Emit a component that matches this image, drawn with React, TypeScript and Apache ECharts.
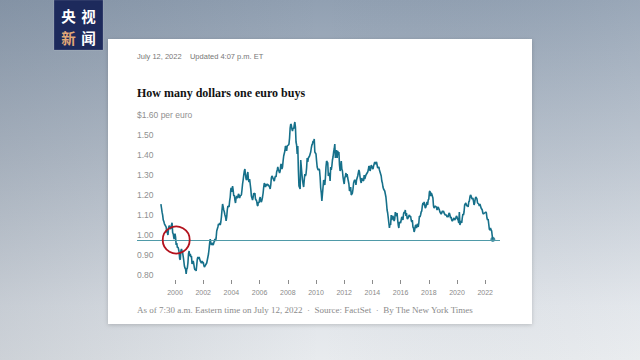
import React, { useEffect, useRef } from "react";
import * as echarts from "echarts";

// EUR/USD, two readings per month (start and middle of month)
const y1999 = [1.179,1.160,1.139,1.124,1.100,1.093,1.081,1.075,1.070,1.064,1.040,1.037,1.025,1.058,1.072,1.066,1.055,1.060,1.075,1.086,1.037,1.030,1.010,1.005];
const y2000 = [1.032,1.014,0.975,0.985,0.962,0.965,0.955,0.939,0.905,0.902,0.945,0.955,0.945,0.935,0.917,0.895,0.870,0.860,0.855,0.830,0.855,0.860,0.885,0.930];
const y2001 = [0.945,0.920,0.930,0.915,0.920,0.880,0.890,0.895,0.880,0.860,0.850,0.855,0.845,0.875,0.905,0.915,0.905,0.915,0.905,0.895,0.890,0.885,0.895,0.885];
const y2002 = [0.890,0.875,0.865,0.870,0.875,0.880,0.885,0.900,0.915,0.930,0.955,0.985,1.005,0.985,0.975,0.985,0.980,0.975,0.985,0.985,1.005,0.995,1.010,1.045];
const y2003 = [1.045,1.065,1.080,1.075,1.085,1.075,1.090,1.115,1.150,1.180,1.165,1.150,1.140,1.125,1.115,1.095,1.115,1.150,1.170,1.170,1.165,1.195,1.215,1.255];
const y2004 = [1.260,1.240,1.270,1.250,1.220,1.225,1.200,1.185,1.210,1.220,1.210,1.215,1.230,1.225,1.210,1.220,1.220,1.225,1.250,1.280,1.300,1.325,1.345,1.355];
const y2005 = [1.325,1.305,1.300,1.325,1.340,1.300,1.290,1.305,1.280,1.255,1.220,1.210,1.200,1.215,1.235,1.225,1.235,1.205,1.205,1.195,1.175,1.170,1.190,1.185];
const y2006 = [1.205,1.215,1.195,1.190,1.200,1.215,1.235,1.265,1.285,1.275,1.265,1.280,1.270,1.280,1.280,1.275,1.270,1.265,1.255,1.275,1.310,1.320,1.315,1.315];
const y2007 = [1.300,1.295,1.310,1.320,1.315,1.340,1.350,1.365,1.350,1.345,1.335,1.345,1.375,1.380,1.355,1.365,1.395,1.420,1.420,1.445,1.470,1.465,1.445,1.470];
const y2008 = [1.470,1.475,1.480,1.510,1.560,1.580,1.575,1.555,1.545,1.560,1.555,1.575,1.590,1.565,1.490,1.475,1.430,1.470,1.350,1.270,1.270,1.255,1.400,1.400];
const y2009 = [1.330,1.300,1.280,1.265,1.300,1.330,1.320,1.330,1.360,1.410,1.390,1.410,1.410,1.420,1.430,1.440,1.460,1.475,1.480,1.495,1.490,1.505,1.440,1.435];
const y2010 = [1.430,1.395,1.365,1.355,1.350,1.355,1.350,1.315,1.260,1.235,1.195,1.230,1.265,1.300,1.290,1.275,1.310,1.365,1.395,1.395,1.385,1.320,1.330,1.335];
const y2011 = [1.295,1.365,1.350,1.370,1.400,1.415,1.440,1.455,1.480,1.410,1.435,1.450,1.410,1.445,1.430,1.440,1.375,1.345,1.360,1.395,1.355,1.345,1.315,1.295];
const y2012 = [1.280,1.310,1.320,1.335,1.315,1.330,1.310,1.310,1.280,1.245,1.250,1.265,1.225,1.230,1.235,1.255,1.285,1.295,1.300,1.295,1.275,1.300,1.310,1.320];
const y2013 = [1.335,1.350,1.340,1.315,1.295,1.285,1.310,1.300,1.300,1.295,1.325,1.305,1.305,1.325,1.330,1.335,1.340,1.350,1.370,1.365,1.345,1.355,1.375,1.375];
const y2014 = [1.360,1.355,1.370,1.380,1.390,1.380,1.385,1.390,1.375,1.360,1.360,1.365,1.350,1.340,1.340,1.320,1.295,1.285,1.265,1.255,1.250,1.245,1.230,1.215];
const y2015 = [1.185,1.150,1.135,1.135,1.085,1.060,1.080,1.075,1.125,1.100,1.115,1.120,1.105,1.095,1.105,1.140,1.120,1.125,1.135,1.100,1.075,1.060,1.090,1.090];
const y2016 = [1.085,1.085,1.115,1.110,1.100,1.130,1.140,1.135,1.150,1.120,1.135,1.110,1.105,1.105,1.120,1.125,1.115,1.120,1.100,1.090,1.100,1.065,1.060,1.040];
const y2017 = [1.050,1.070,1.075,1.060,1.075,1.080,1.065,1.085,1.120,1.115,1.125,1.140,1.145,1.170,1.185,1.175,1.190,1.175,1.160,1.165,1.165,1.190,1.175,1.200];
const y2018 = [1.205,1.240,1.245,1.220,1.235,1.230,1.230,1.210,1.170,1.160,1.165,1.170,1.170,1.165,1.150,1.160,1.165,1.165,1.150,1.140,1.140,1.130,1.135,1.145];
const y2019 = [1.140,1.145,1.135,1.135,1.125,1.125,1.125,1.115,1.120,1.115,1.130,1.135,1.125,1.110,1.115,1.100,1.095,1.100,1.100,1.110,1.100,1.100,1.110,1.120];
const y2020 = [1.115,1.105,1.100,1.085,1.140,1.075,1.090,1.095,1.085,1.110,1.130,1.125,1.140,1.175,1.180,1.185,1.175,1.170,1.175,1.165,1.190,1.195,1.215,1.225];
const y2021 = [1.220,1.210,1.205,1.210,1.195,1.175,1.185,1.205,1.215,1.215,1.205,1.185,1.185,1.180,1.170,1.180,1.180,1.160,1.160,1.150,1.135,1.130,1.130,1.135];
const y2022 = [1.135,1.140,1.135,1.110,1.100,1.105,1.080,1.055,1.050,1.060,1.050,1.045,1.020,1.003];

const years: [number, number[]][] = [
  [1999, y1999], [2000, y2000], [2001, y2001], [2002, y2002], [2003, y2003],
  [2004, y2004], [2005, y2005], [2006, y2006], [2007, y2007], [2008, y2008],
  [2009, y2009], [2010, y2010], [2011, y2011], [2012, y2012], [2013, y2013],
  [2014, y2014], [2015, y2015], [2016, y2016], [2017, y2017], [2018, y2018],
  [2019, y2019], [2020, y2020], [2021, y2021], [2022, y2022],
];

const tickYears = [2000, 2002, 2004, 2006, 2008, 2010, 2012, 2014, 2016, 2018, 2020, 2022];
const parity = 1.0;
const circledPoint = [2000.05, 1.0];

const dateLine = "July 12, 2022    Updated 4:07 p.m. ET";
const title = "How many dollars one euro buys";
const footnote = "As of 7:30 a.m. Eastern time on July 12, 2022  \u00b7  Source: FactSet  \u00b7  By The New York Times";

const TEAL = "#16708a";

export default function App() {
  const ref = useRef<HTMLDivElement>(null);
  useEffect(() => {
    if (!ref.current) return;
    const chart = echarts.init(ref.current, null, { renderer: "svg" });
    const points = years.flatMap(([yr, vals]) => vals.map((v, i) => [yr + i / 24, v]));
    const last = points[points.length - 1];

    const txt = (id: string, text: string, x: number, y: number, font: string, fill: string, extra: any = {}) => ({
      type: "text",
      id,
      z: 5,
      style: {
        text, x, y, font, fill,
        textAlign: "left", textVerticalAlign: "middle",
        align: "left", verticalAlign: "middle",
        ...extra,
      },
    });
    const logoTxt = (id: string, text: string, x: number, y: number, fill: string) => ({
      type: "text", id, z: 6,
      style: {
        text, x, y, fill, font: 'bold 14.5px "Noto Sans CJK SC"', lineHeight: 15,
        textAlign: "center", textVerticalAlign: "middle", align: "center", verticalAlign: "middle",
      },
    });

    const graphics: any[] = [
      {
        type: "rect", id: "bgshade", z: -10, silent: true,
        shape: { x: 0, y: 0, width: 640, height: 360 },
        style: {
          fill: {
            type: "linear", x: 0, y: 0, x2: 1, y2: 0,
            colorStops: [
              { offset: 0, color: "rgba(60,75,95,0.16)" },
              { offset: 0.5, color: "rgba(60,75,95,0.0)" },
              { offset: 1, color: "rgba(255,255,255,0.08)" },
            ],
          },
        },
      },
      {
        type: "rect", id: "card", z: -5,
        shape: { x: 108, y: 39, width: 424, height: 285 },
        style: { fill: "#ffffff", shadowBlur: 4, shadowColor: "rgba(0,0,0,0.18)", shadowOffsetY: 1 },
      },
      {
        type: "rect", id: "logo", z: 5,
        shape: { x: 54, y: 0, width: 49, height: 50 },
        style: { fill: "#1d2a5c", stroke: "rgba(255,255,255,0.15)", lineWidth: 1 },
      },
      logoTxt("l1", "央", 68.5, 15.5, "#ffffff"),
      logoTxt("l1b", "视", 88.5, 15.5, "#ffffff"),
      logoTxt("l2", "新", 68.5, 37, "#e2a877"),
      logoTxt("l3", "闻", 88.5, 37, "#ffffff"),
      txt("date", dateLine, 137, 56.5, '7.5px "Liberation Sans"', "#777777"),
      txt("title", title, 137, 93, 'bold 12px "Liberation Serif"', "#121212"),
      txt("foot", footnote, 137, 310, '9px "Liberation Serif"', "#8a8a8a"),
    ];

    chart.setOption({
      animation: false,
      backgroundColor: {
        type: "linear", x: 0, y: 0, x2: 0, y2: 1,
        colorStops: [
          { offset: 0, color: "#91a0b2" },
          { offset: 0.45, color: "#bac3ce" },
          { offset: 0.85, color: "#e1e5ea" },
          { offset: 1, color: "#e8ebee" },
        ],
      },
      grid: { left: 137, right: 140, top: 120, bottom: 80 },
      xAxis: {
        type: "value",
        min: 2000 - 38 / 14.1,
        max: 2000 + 325 / 14.1,
        axisLine: { show: false },
        splitLine: { show: false },
        axisTick: { show: true, customValues: tickYears, length: 4, lineStyle: { color: "#8c8c8c", width: 1 } },
        axisLabel: {
          customValues: tickYears, formatter: (v: number) => String(v),
          color: "#8a8a8a", fontSize: 7, fontFamily: "Liberation Sans", margin: 9,
        },
      },
      yAxis: {
        type: "value",
        min: 0.8, max: 1.6, interval: 0.1,
        axisLine: { show: false },
        axisTick: { show: false },
        splitLine: { show: false },
        axisLabel: {
          inside: true, margin: 0, verticalAlign: "bottom", align: "left",
          color: "#8f8f8f", fontSize: 8.5, fontFamily: "Liberation Sans", padding: [0, 0, 1, 0],
          formatter: (v: number) => (Math.abs(v - 1.6) < 1e-6 ? "$1.60 per euro" : v.toFixed(2)),
        },
      },
      series: [
        {
          type: "line",
          data: points,
          showSymbol: false,
          symbol: "none",
          lineStyle: { color: TEAL, width: 1.6 },
          z: 3,
          markLine: {
            silent: true, symbol: "none", label: { show: false },
            lineStyle: { color: "#4f9aa8", width: 1, type: "solid" },
            data: [{ yAxis: parity }],
          },
        },
        {
          type: "scatter",
          data: [last],
          symbolSize: 5,
          itemStyle: { color: TEAL },
          z: 4,
        },
      ],
      graphic: graphics,
    });

    const c = chart.convertToPixel({ gridIndex: 0 }, circledPoint) as number[];
    chart.setOption({
      graphic: [
        ...graphics,
        {
          type: "circle", id: "redring", z: 100,
          shape: { cx: c[0] + 0.5, cy: c[1], r: 13.5 },
          style: { fill: "none", stroke: "#b3121d", lineWidth: 1.8 },
        },
      ],
    });

    return () => chart.dispose();
  }, []);
  return <div ref={ref} style={{ position: "fixed", left: 0, top: 0, width: 640, height: 360 }} />;
}
